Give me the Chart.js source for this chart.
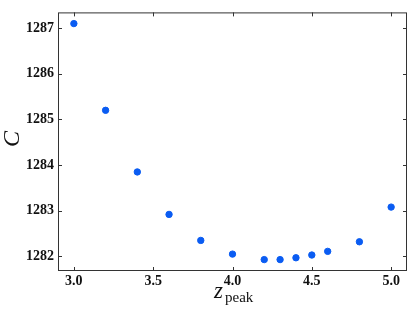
<!DOCTYPE html>
<html>
<head>
<meta charset="utf-8">
<script src="https://cdn.jsdelivr.net/npm/chart.js@4.4.1/dist/chart.umd.min.js"></script>
<style>
  html, body { margin: 0; padding: 0; background: #fff; }
  #wrap { width: 415px; height: 312px; }
</style>
</head>
<body>
<div id="wrap"><canvas id="scatterChart" width="415" height="312"></canvas></div>
<script>
// data
var zPeak = [3.0, 3.2, 3.4, 3.6, 3.8, 4.0, 4.2, 4.3, 4.4, 4.5, 4.6, 4.8, 5.0];
var cValues = [1287.1, 1285.2, 1283.85, 1282.92, 1282.35, 1282.05, 1281.93, 1281.93, 1281.97, 1282.03, 1282.11, 1282.32, 1283.08];
var xTicks = [3.0, 3.5, 4.0, 4.5, 5.0];
var yTicks = [1282, 1283, 1284, 1285, 1286, 1287];

var points = zPeak.map(function (z, i) { return { x: z, y: cValues[i] }; });
var tickFont = { family: "'Liberation Serif', serif", size: 14, weight: 'bold' };

// inward ticks on all four sides + axis titles
var framePlugin = {
    id: 'frame',
    afterDraw: function (chart) {
        var ctx = chart.ctx;
        var a = chart.chartArea;
        var xs = chart.scales.x, ys = chart.scales.y;
        ctx.save();
        ctx.strokeStyle = '#333';
        ctx.lineWidth = 1;
        ctx.strokeRect(a.left + 0.5, a.top + 0.5, a.right - a.left - 1, a.bottom - a.top - 1);
        ctx.beginPath();
        xTicks.forEach(function (t) {
            var px = Math.round(xs.getPixelForValue(t)) + 0.5;
            ctx.moveTo(px, a.bottom); ctx.lineTo(px, a.bottom - 4);
            ctx.moveTo(px, a.top); ctx.lineTo(px, a.top + 4);
        });
        yTicks.forEach(function (t) {
            var py = Math.round(ys.getPixelForValue(t)) + 0.5;
            ctx.moveTo(a.left, py); ctx.lineTo(a.left + 4, py);
            ctx.moveTo(a.right, py); ctx.lineTo(a.right - 4, py);
        });
        ctx.stroke();

        // x title: z with subscript "peak"
        ctx.fillStyle = '#111';
        ctx.textBaseline = 'alphabetic';
        ctx.textAlign = 'left';
        ctx.font = "italic 23px 'Liberation Serif', serif";
        ctx.fillText('z', 214, 298);
        ctx.font = "15px 'Liberation Serif', serif";
        ctx.fillText('peak', 225, 302);

        // y title, rotated
        ctx.translate(13, 139);
        ctx.rotate(-Math.PI / 2);
        ctx.textAlign = 'center';
        ctx.textBaseline = 'middle';
        ctx.font = "italic 24px 'Liberation Serif', serif";
        ctx.fillText('C', 0, 0);
        ctx.restore();
    }
};

var ctx = document.getElementById('scatterChart').getContext('2d');
var chart = new Chart(ctx, {
    type: 'scatter',
    data: {
        datasets: [{
            data: points,
            backgroundColor: '#0a5cf2',
            borderColor: '#0a5cf2',
            pointRadius: 3.2,
            pointHoverRadius: 3.2
        }]
    },
    options: {
        responsive: false,
        animation: false,
        layout: { padding: { left: 0, right: 8, top: 8, bottom: 0 } },
        plugins: { legend: { display: false }, tooltip: { enabled: false } },
        scales: {
            x: {
                type: 'linear',
                min: 2.9,
                max: 5.1,
                afterBuildTicks: function (scale) {
                    scale.ticks = xTicks.map(function (v) { return { value: v }; });
                },
                afterFit: function (scale) { scale.height = 41; },
                grid: { display: false, drawTicks: false },
                border: { display: false },
                ticks: {
                    color: '#111',
                    font: tickFont,
                    padding: 2,
                    maxRotation: 0,
                    callback: function (v) { return v.toFixed(1); }
                }
            },
            y: {
                min: 1281.68,
                max: 1287.345,
                afterBuildTicks: function (scale) {
                    scale.ticks = yTicks.map(function (v) { return { value: v }; });
                },
                afterFit: function (scale) { scale.width = 58; },
                grid: { display: false, drawTicks: false },
                border: { display: false },
                ticks: {
                    color: '#111',
                    font: tickFont,
                    padding: 4,
                    callback: function (v) { return String(v); }
                }
            }
        }
    },
    plugins: [framePlugin]
});
</script>
</body>
</html>
